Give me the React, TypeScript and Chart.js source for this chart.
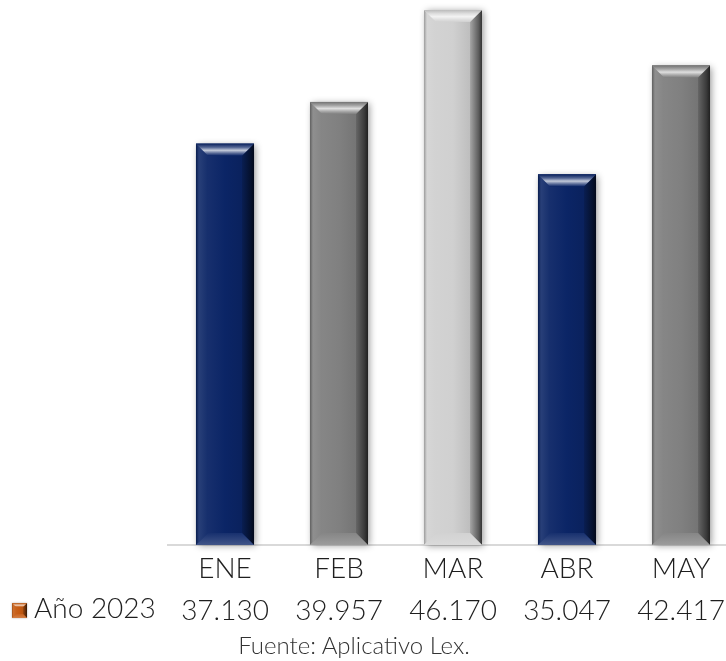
import { useEffect, useRef } from "react";
import { Chart, registerables } from "chart.js";

Chart.register(...registerables);

const categories = ["ENE", "FEB", "MAR", "ABR", "MAY"];
const values2023 = [37130, 39957, 46170, 35047, 42417];
const seriesLabel = "Año 2023";
const sourceNote = "Fuente: Aplicativo Lex.";
const barColors = ["#0b2566", "#808080", "#d0d0d0", "#0b2566", "#808080"];
const legendColor = "#c55a11";
const yMin = 10000;
const yMax = 46850;

const FONT = "'Lato Light', Lato, 'Noto Sans', sans-serif";
const TEXT = "#1e1e1e";

function fmt(n: number): string {
  return String(Math.round(n)).replace(/\B(?=(\d{3})+(?!\d))/g, ".");
}

function rgbOf(hex: string): number[] {
  const v = parseInt(hex.slice(1), 16);
  return [(v >> 16) & 255, (v >> 8) & 255, v & 255];
}
function mix(hex: string, target: number[], t: number): string {
  const c = rgbOf(hex);
  return `rgb(${c.map((ch, i) => Math.round(ch + (target[i] - ch) * t)).join(",")})`;
}
const lighten = (h: string, t: number) => mix(h, [255, 255, 255], t);
const darken = (h: string, t: number) => mix(h, [0, 0, 0], t);

function drawBevel(ctx: CanvasRenderingContext2D, x0: number, y0: number, x1: number, y1: number, color: string, b: number) {
  ctx.save();
  const cg = ctx.createLinearGradient(x0, 0, x1, 0);
  cg.addColorStop(0, lighten(color, 0.08));
  cg.addColorStop(0.5, color);
  cg.addColorStop(1, darken(color, 0.15));
  ctx.fillStyle = cg;
  ctx.fillRect(x0, y0, x1 - x0, y1 - y0);

  ctx.beginPath();
  ctx.moveTo(x0, y0);
  ctx.lineTo(x0 + b, y0 + b);
  ctx.lineTo(x0 + b, y1 - b);
  ctx.lineTo(x0, y1);
  ctx.closePath();
  const lg = ctx.createLinearGradient(x0, 0, x0 + b, 0);
  lg.addColorStop(0, darken(color, 0.25));
  lg.addColorStop(0.25, lighten(color, 0.12));
  lg.addColorStop(1, lighten(color, 0.04));
  ctx.fillStyle = lg;
  ctx.fill();

  ctx.beginPath();
  ctx.moveTo(x1, y0);
  ctx.lineTo(x1 - b, y0 + b);
  ctx.lineTo(x1 - b, y1 - b);
  ctx.lineTo(x1, y1);
  ctx.closePath();
  const rg = ctx.createLinearGradient(x1 - b, 0, x1, 0);
  rg.addColorStop(0, darken(color, 0.2));
  rg.addColorStop(0.7, darken(color, 0.55));
  rg.addColorStop(1, darken(color, 0.75));
  ctx.fillStyle = rg;
  ctx.fill();

  ctx.beginPath();
  ctx.moveTo(x0, y0);
  ctx.lineTo(x1, y0);
  ctx.lineTo(x1 - b, y0 + b);
  ctx.lineTo(x0 + b, y0 + b);
  ctx.closePath();
  const tg = ctx.createLinearGradient(0, y0, 0, y0 + b);
  tg.addColorStop(0, darken(color, 0.1));
  tg.addColorStop(0.3, lighten(color, 0.3));
  tg.addColorStop(0.55, lighten(color, 0.75));
  tg.addColorStop(0.8, lighten(color, 0.3));
  tg.addColorStop(1, color);
  ctx.fillStyle = tg;
  ctx.fill();

  ctx.beginPath();
  ctx.moveTo(x0, y1);
  ctx.lineTo(x1, y1);
  ctx.lineTo(x1 - b, y1 - b);
  ctx.lineTo(x0 + b, y1 - b);
  ctx.closePath();
  const bg = ctx.createLinearGradient(0, y1 - b, 0, y1);
  bg.addColorStop(0, lighten(color, 0.05));
  bg.addColorStop(1, lighten(color, 0.22));
  ctx.fillStyle = bg;
  ctx.fill();
  ctx.restore();
}

function barBox(chart: any, bar: any) {
  const { x, y, base, width } = bar.getProps(["x", "y", "base", "width"], true);
  const bottom = Math.min(base, chart.chartArea.bottom);
  const top = Math.max(y, chart.chartArea.top);
  return { x0: x - width / 2, x1: x + width / 2, y0: top, y1: bottom };
}

const bevelPlugin = {
  id: "bevelBars",
  beforeDatasetsDraw(chart: any) {
    const ctx = chart.ctx as CanvasRenderingContext2D;
    const meta = chart.getDatasetMeta(0);
    ctx.save();
    ctx.shadowColor = "rgba(0,0,0,0.4)";
    ctx.shadowBlur = 7;
    ctx.shadowOffsetX = 2;
    ctx.shadowOffsetY = 1;
    meta.data.forEach((bar: any, i: number) => {
      const b = barBox(chart, bar);
      ctx.fillStyle = barColors[i % barColors.length];
      ctx.fillRect(b.x0, b.y0, b.x1 - b.x0, b.y1 - b.y0);
    });
    ctx.restore();
  },
  afterDatasetsDraw(chart: any) {
    const ctx = chart.ctx as CanvasRenderingContext2D;
    const meta = chart.getDatasetMeta(0);
    meta.data.forEach((bar: any, i: number) => {
      const b = barBox(chart, bar);
      drawBevel(ctx, b.x0, b.y0, b.x1, b.y1, barColors[i % barColors.length], 12);
    });
  },
  afterDraw(chart: any) {
    const ctx = chart.ctx as CanvasRenderingContext2D;
    ctx.save();
    ctx.shadowColor = "rgba(0,0,0,0.3)";
    ctx.shadowBlur = 2;
    ctx.fillStyle = legendColor;
    ctx.fillRect(12, 603, 15, 15);
    ctx.restore();
    drawBevel(ctx, 12, 603, 27, 618, legendColor, 4);
    ctx.save();
    ctx.fillStyle = TEXT;
    ctx.font = `300 28px ${FONT}`;
    ctx.textAlign = "left";
    ctx.textBaseline = "alphabetic";
    ctx.fillText(seriesLabel, 34, 618);
    ctx.restore();
  },
};

export default function App() {
  const ref = useRef<HTMLCanvasElement | null>(null);

  useEffect(() => {
    if (!ref.current) return;
    const chart = new Chart(ref.current, {
      type: "bar",
      data: {
        labels: categories.map((c, i) => [c, fmt(values2023[i])]),
        datasets: [
          {
            label: seriesLabel,
            data: values2023,
            backgroundColor: barColors,
            borderWidth: 0,
            barPercentage: 0.509,
            categoryPercentage: 1,
          },
        ],
      },
      options: {
        animation: false,
        responsive: true,
        maintainAspectRatio: false,
        layout: { padding: { left: 168, right: 22, top: 0, bottom: 0 } },
        plugins: {
          legend: { display: false },
          tooltip: { enabled: false },
          title: { display: false },
        },
        scales: {
          x: {
            grid: { display: false, drawTicks: false },
            border: { display: true, color: "#d9d9d9", width: 2 },
            ticks: {
              color: TEXT,
              font: { family: FONT, size: 28, weight: "300", lineHeight: 1.5 },
              padding: 3,
              autoSkip: false,
              maxRotation: 0,
              minRotation: 0,
            },
            afterFit(scale: any) {
              scale.height = 116;
            },
          },
          y: {
            display: false,
            min: yMin,
            max: yMax,
          },
        },
      },
      plugins: [bevelPlugin],
    });
    return () => chart.destroy();
  }, []);

  return (
    <div style={{ position: "absolute", left: 0, top: 0, width: 726, height: 661, overflow: "hidden", background: "#fff" }}>
      <div style={{ position: "absolute", left: 0, top: 0, width: 760, height: 661 }}>
        <canvas ref={ref} />
      </div>
      <div
        style={{
          position: "absolute",
          left: 0,
          width: 708,
          top: 633,
          textAlign: "center",
          font: `300 24px ${FONT}`,
          lineHeight: "24px",
          color: "#333",
        }}
      >
        {sourceNote}
      </div>
    </div>
  );
}
